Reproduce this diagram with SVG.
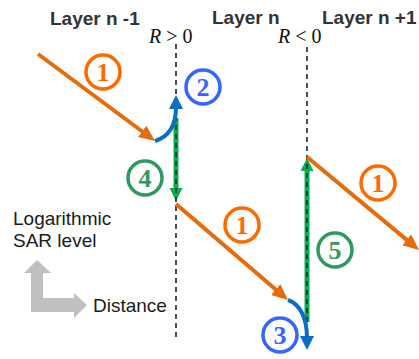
<svg xmlns="http://www.w3.org/2000/svg" width="419" height="359" viewBox="0 0 419 359">
<style>
.title{font-family:"Liberation Sans",Arial,sans-serif;font-weight:bold;font-size:19px;fill:#333}
.lbl{font-family:"Liberation Sans",Arial,sans-serif;font-size:19px;fill:#1a1a1a}
.math{font-family:"Liberation Serif","Times New Roman",serif;font-size:20px;fill:#111}
.dash{stroke:#222;stroke-width:1.6;stroke-dasharray:5,4;fill:none}
.or{stroke:#E46C0A;stroke-width:4;fill:none}
.bl{stroke:#0A6FC2;stroke-width:4;fill:none}
.gr{stroke:#00B050;stroke-width:5;fill:none}
.num{font-family:"Liberation Serif","Times New Roman",serif;font-weight:bold;font-size:26px;text-anchor:middle}
.c-or circle{stroke:#FF6A00;stroke-width:3.5;fill:#fff}
.c-or text{fill:#FF6A00}
.c-bl circle{stroke:#3366FF;stroke-width:3.5;fill:#fff}
.c-bl text{fill:#3366FF}
.c-gr circle{stroke:#2E9960;stroke-width:3.5;fill:#fff}
.c-gr text{fill:#2E9960}
</style>
<defs>
<marker id="ahO" viewBox="0 0 16 14" refX="6" refY="7" markerWidth="16" markerHeight="14" markerUnits="userSpaceOnUse" orient="auto"><path d="M0,0 L16,7 L0,14 z" fill="#E46C0A"/></marker>
<marker id="ahB" viewBox="0 0 14 14" refX="2" refY="7" markerWidth="14" markerHeight="14" markerUnits="userSpaceOnUse" orient="auto"><path d="M0,0 L14,7 L0,14 z" fill="#0A6FC2"/></marker>
<marker id="ahG" viewBox="0 0 13 13" refX="2" refY="6.5" markerWidth="13" markerHeight="13" markerUnits="userSpaceOnUse" orient="auto"><path d="M0,0 L13,6.5 L0,13 z" fill="#00B050"/></marker>
</defs>

<g id="titles">
<text class="title" x="50" y="25">Layer n -1</text>
<text class="title" x="212" y="24">Layer n</text>
<text class="title" x="322" y="24">Layer n +1</text>
</g>

<g id="boundaries">
<text class="math" x="149" y="43"><tspan font-style="italic">R</tspan> &gt; 0</text>
<text class="math" x="278" y="43"><tspan font-style="italic">R</tspan> &lt; 0</text>
</g>

<g id="connectors">
<line class="gr" x1="176" y1="118" x2="176" y2="190" marker-end="url(#ahG)"/>
<line class="gr" x1="307" y1="322" x2="307" y2="169" marker-end="url(#ahG)"/>
<line class="dash" x1="176" y1="44" x2="176" y2="338"/>
<line class="dash" x1="307" y1="47" x2="307" y2="347"/>
<line class="or" x1="38" y1="54" x2="147" y2="135" marker-end="url(#ahO)"/>
<line class="or" x1="176" y1="204" x2="280.4" y2="293.5" marker-end="url(#ahO)"/>
<line class="or" x1="307" y1="157" x2="411.3" y2="243.6" marker-end="url(#ahO)"/>
<path class="bl" d="M155,141 C168,137 176,126 176,107" marker-end="url(#ahB)"/>
<path class="bl" d="M288,300 C300,304 307,318 307,338" marker-end="url(#ahB)"/>
</g>

<g id="n1a" class="c-or"><circle cx="103" cy="72" r="17"/><text class="num" x="103" y="81">1</text></g>
<g id="n2" class="c-bl"><circle cx="203" cy="87" r="17"/><text class="num" x="203" y="96">2</text></g>
<g id="n4" class="c-gr"><circle cx="145" cy="178" r="17"/><text class="num" x="145" y="187">4</text></g>
<g id="n1b" class="c-or"><circle cx="242" cy="225" r="17"/><text class="num" x="242" y="234">1</text></g>
<g id="n5" class="c-gr"><circle cx="335" cy="250" r="17"/><text class="num" x="335" y="259">5</text></g>
<g id="n1c" class="c-or"><circle cx="378" cy="183" r="17"/><text class="num" x="378" y="192">1</text></g>
<g id="n3" class="c-bl"><circle cx="280" cy="335" r="17"/><text class="num" x="280" y="344">3</text></g>

<g id="legend">
<text class="lbl" x="13" y="225">Logarithmic</text>
<text class="lbl" x="13" y="247">SAR level</text>
<path d="M37,260 L51,273 L43,273 L43,298 L74,298 L74,293 L87,305 L74,318 L74,312 L31,312 L31,273 L24,273 Z" fill="#C0C0C0"/>
<text class="lbl" x="93" y="312">Distance</text>
</g>
</svg>
